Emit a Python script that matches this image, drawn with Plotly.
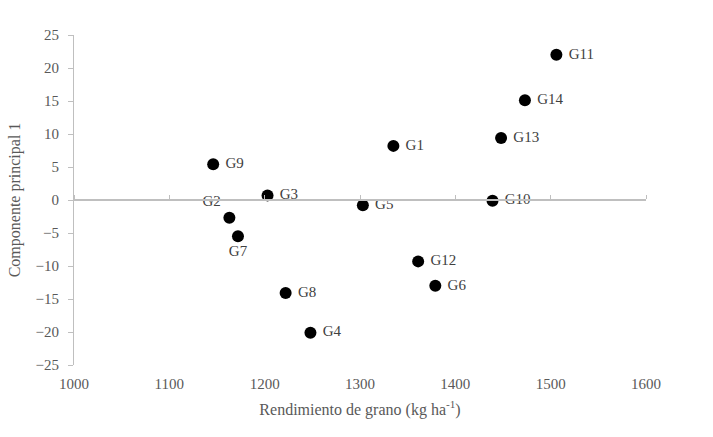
import plotly.graph_objects as go

genotypes = ["G1", "G2", "G3", "G4", "G5", "G6", "G7", "G8", "G9", "G10", "G11", "G12", "G13", "G14"]
yield_kg = [1335, 1163, 1203, 1248, 1303, 1379, 1172, 1222, 1146, 1439, 1506, 1361, 1448, 1473]
pc1 = [8.2, -2.7, 0.7, -20.1, -0.8, -13.0, -5.5, -14.1, 5.4, -0.1, 22.0, -9.3, 9.4, 15.1]
label_pos = ["middle right", "top left", "middle right", "middle right", "middle right",
             "middle right", "bottom center", "middle right", "middle right", "middle right",
             "middle right", "middle right", "middle right", "middle right"]

x_ticks = [1000, 1100, 1200, 1300, 1400, 1500, 1600]
y_ticks = [-25, -20, -15, -10, -5, 0, 5, 10, 15, 20, 25]

SERIF = "Times New Roman, Liberation Serif, DejaVu Serif, serif"
GRAY = "#bfbfbf"
TXT = "#595959"

fig = go.Figure()
fig.add_trace(go.Scatter(
    x=yield_kg, y=pc1, mode="markers+text",
    text=[" " + g if p == "middle right" else g for g, p in zip(genotypes, label_pos)],
    textposition=label_pos,
    textfont=dict(family=SERIF, size=15, color="#404040"),
    marker=dict(size=12, color="black"),
    cliponaxis=False, showlegend=False, hoverinfo="skip",
))
fig.add_trace(go.Scatter(x=[1000, 1600], y=[0, 0], xaxis="x2", mode="lines",
                         line=dict(width=0), showlegend=False, hoverinfo="skip"))

fig.update_layout(
    width=713, height=437,
    margin=dict(l=74, r=67, t=35, b=72),
    paper_bgcolor="white", plot_bgcolor="white",
    font=dict(family=SERIF, color=TXT),
    xaxis=dict(
        range=[1000, 1600], tickvals=x_ticks, showgrid=False, zeroline=False,
        showline=False, ticks="", automargin=False, ticklabelstandoff=8,
        tickfont=dict(family=SERIF, size=15, color=TXT),
        title=dict(text="Rendimiento de grano (kg ha<sup>-1</sup>)",
                   font=dict(family=SERIF, size=16, color=TXT), standoff=12),
    ),
    xaxis2=dict(
        overlaying="x", anchor="free", position=0.5, side="top",
        range=[1000, 1600], tickvals=x_ticks, showticklabels=False,
        showline=True, linecolor=GRAY, linewidth=2, ticks="outside", ticklen=4,
        tickcolor=GRAY, showgrid=False, zeroline=False, automargin=False,
    ),
    yaxis=dict(
        range=[-25, 25], tickvals=y_ticks, showgrid=False, zeroline=False,
        showline=True, linecolor=GRAY, linewidth=1, ticks="outside", ticklen=5,
        tickcolor=GRAY, automargin=False, ticklabelstandoff=6,
        tickfont=dict(family=SERIF, size=15, color=TXT),
        title=dict(text="Componente principal 1",
                   font=dict(family=SERIF, size=16, color=TXT), standoff=10),
    ),
)

fig.write_html("out.html", post_script="document.body.style.margin='0';",
               config={"displayModeBar": False})
